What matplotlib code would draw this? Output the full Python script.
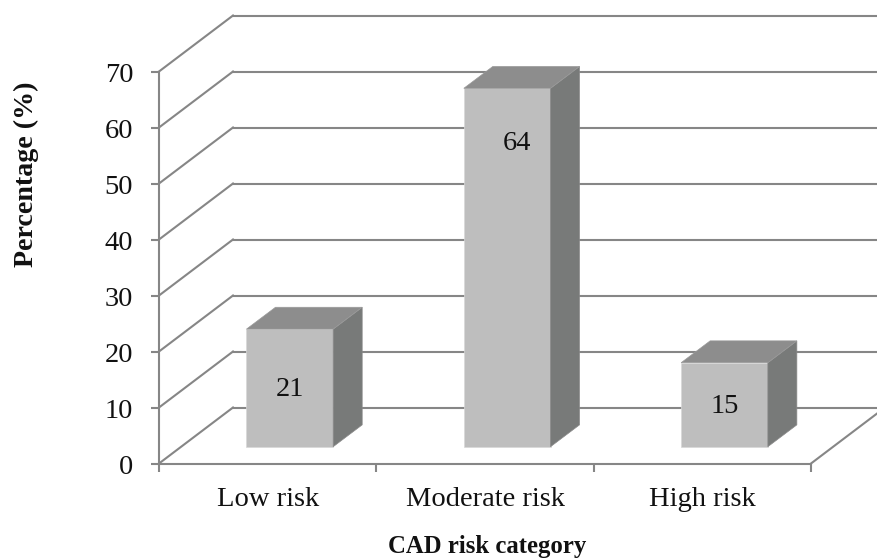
import matplotlib
matplotlib.use('Agg')
import matplotlib.pyplot as plt
from matplotlib.patches import Polygon
from matplotlib.transforms import ScaledTranslation

categories = ['Low risk', 'Moderate risk', 'High risk']
percentages = [21, 64, 15]
y_ticks = [0, 10, 20, 30, 40, 50, 60, 70]

plt.rcParams['font.family'] = ['Liberation Serif']

line_color = '#868686'
front_color = '#BEBEBE'
side_color = '#787A79'
top_color = '#8D8D8D'

fig = plt.figure(figsize=(8.77, 5.59), dpi=100)

# axes box is the front plane of the 3D chart
ax = fig.add_axes([159 / 877, 1 - 463.5 / 559, 652 / 877, 392 / 559])
ax.set_xlim(0, 3)
ax.set_ylim(0, 70)

# depth of the box and of the bars, in data units
depth_x = 74 / (652 / 3)
depth_y = 10
bar_width = 0.399
bar_shift = 0.102
floor_y = 3
bar_depth_x = 29 / (652 / 3)
bar_depth_y = 3.9

# walls: diagonal on the left, line along the back
for v in y_ticks:
    ax.plot([0, depth_x], [v, v + depth_y], color=line_color, lw=1.5, clip_on=False, zorder=1)
    ax.plot([depth_x, 3 + depth_x], [v + depth_y, v + depth_y], color=line_color, lw=1.5,
            clip_on=False, zorder=1)
ax.plot([3, 3 + depth_x], [0, depth_y], color=line_color, lw=1.5, clip_on=False, zorder=1)

for i, value in enumerate(percentages):
    x0 = i + 0.5 + bar_shift - bar_width / 2
    x1 = x0 + bar_width
    y0 = floor_y
    y1 = floor_y + value
    dx = bar_depth_x
    dy = bar_depth_y
    ax.add_patch(Polygon([(x0, y0), (x1, y0), (x1, y1), (x0, y1)], fc=front_color,
                         ec='#D8D8D8', lw=0.5, clip_on=False, zorder=3))
    ax.add_patch(Polygon([(x1, y0), (x1 + dx, y0 + dy), (x1 + dx, y1 + dy), (x1, y1)], fc=side_color,
                         ec='#8A8A8A', lw=0.5, clip_on=False, zorder=3))
    ax.add_patch(Polygon([(x0, y1), (x1, y1), (x1 + dx, y1 + dy), (x0 + dx, y1 + dy)], fc=top_color,
                         ec='#9A9A9A', lw=0.5, clip_on=False, zorder=3))
    # the 64 label was dragged up and to the right in the original
    if value == 64:
        ax.annotate(str(value), (i + 0.5 + bar_shift, y1), xytext=(7, -40), textcoords='offset points',
                    ha='center', va='center', fontsize=20.5, color='#111111', zorder=4)
    else:
        ax.annotate(str(value), (i + 0.5 + bar_shift, (y0 + y1) / 2), xytext=(0, -1.5), textcoords='offset points',
                    ha='center', va='center', fontsize=20.5, color='#111111', zorder=4)

for s in ['top', 'right']:
    ax.spines[s].set_visible(False)
for s in ['left', 'bottom']:
    ax.spines[s].set_color(line_color)
    ax.spines[s].set_linewidth(1.5)

ax.set_yticks(y_ticks)
ax.set_xticks([0, 1, 2, 3])
ax.set_xticklabels([])
ax.set_xticks([0.5, 1.5, 2.5], labels=categories, minor=True)
ax.tick_params(axis='x', which='minor', length=0, pad=17, labelsize=20.5, colors='#111111')
ax.tick_params(axis='x', which='major', length=6, width=1.5, color=line_color)
ax.tick_params(axis='y', length=6, width=1.5, color=line_color, labelcolor='#111111', labelsize=20.5, pad=12.5)

# tick digits sit a little under their ticks
for label in ax.get_yticklabels():
    label.set_transform(label.get_transform() + ScaledTranslation(0, -1.5 / 100, fig.dpi_scale_trans))

fig.text(487 / 877, 1 - 546 / 559, 'CAD risk category', fontsize=17.8, fontweight='bold',
         ha='center', va='center', color='#111111')
fig.text(26 / 877, 1 - 174.5 / 559, 'Percentage (%)', fontsize=20.2, fontweight='bold', rotation=90,
         ha='center', va='center', color='#111111')

fig.savefig('out.png', dpi=100)
